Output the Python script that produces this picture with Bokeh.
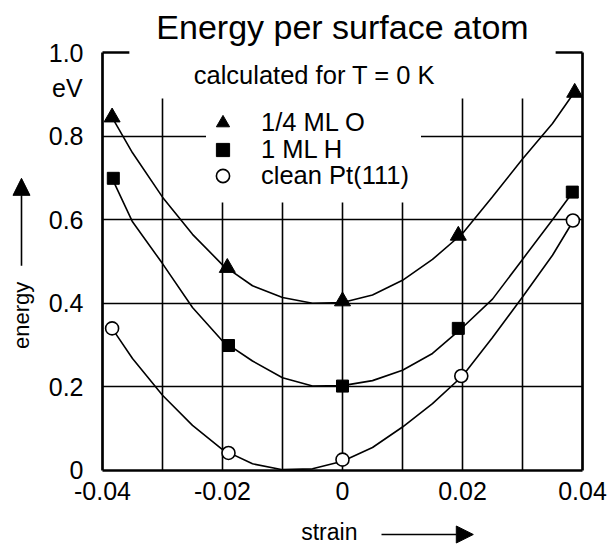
from math import pi
from bokeh.plotting import figure
from bokeh.models import (Range1d, FixedTicker, LinearAxis, Grid, Label, Arrow,
                          NormalHead, Legend, LegendItem)
from bokeh.embed import file_html
from bokeh.resources import INLINE

# ---- measured data points ----
strain_O = [-0.0384, -0.0192, 0.0, 0.0193, 0.0387]
energy_O = [0.845, 0.485, 0.405, 0.562, 0.904]
strain_H = [-0.0382, -0.0190, 0.0, 0.0193, 0.0383]
energy_H = [0.699, 0.299, 0.202, 0.340, 0.666]
strain_C = [-0.0384, -0.0190, 0.0, 0.0198, 0.0384]
energy_C = [0.340, 0.042, 0.026, 0.226, 0.598]

# ---- fitted curves ----
curve_x = [-0.0384, -0.035, -0.03, -0.025, -0.02, -0.015, -0.01, -0.005, 0.0,
           0.005, 0.01, 0.015, 0.02, 0.025, 0.03, 0.035, 0.0385]
curve_O = [0.845, 0.760, 0.654, 0.565, 0.492, 0.442, 0.414, 0.400, 0.402,
           0.420, 0.455, 0.505, 0.567, 0.655, 0.745, 0.830, 0.902]
curve_H = [0.699, 0.595, 0.495, 0.390, 0.310, 0.262, 0.222, 0.202, 0.203,
           0.215, 0.240, 0.280, 0.342, 0.410, 0.505, 0.600, 0.668]
curve_C = [0.340, 0.268, 0.180, 0.108, 0.050, 0.016, 0.002, 0.004, 0.022,
           0.055, 0.104, 0.160, 0.226, 0.318, 0.415, 0.515, 0.598]

series_labels = ["1/4 ML O", "1 ML H", "clean Pt(111)"]

x_ticks = [-0.04, -0.02, 0.0, 0.02, 0.04]
x_tick_labels = ["-0.04", "-0.02", "0", "0.02", "0.04"]
y_ticks = [0.0, 0.2, 0.4, 0.6, 0.8, 1.0]
y_tick_labels = ["0", "0.2", "0.4", "0.6", "0.8", "1.0"]
grid_x_outer = [-0.03, 0.02, 0.03]
grid_x_inner = [-0.02, -0.01, 0.0, 0.01]
grid_y = [0.2, 0.4, 0.6, 0.8]

X0, X1 = -0.04, 0.04
Y0, Y1 = 0.0, 1.0

FONT = "Liberation Sans"

# the frame spans the whole canvas; the data box is drawn by fixed-location axes
p = figure(width=607, height=545, output_backend="svg", toolbar_location=None,
           x_range=Range1d(-0.0570, 0.044167), y_range=Range1d(-0.179426, 1.124402),
           x_axis_type=None, y_axis_type=None,
           min_border=0, min_border_left=0, min_border_right=0,
           min_border_top=0, min_border_bottom=0)
p.outline_line_color = None
p.background_fill_color = "white"
p.border_fill_color = "white"


def style_axis(ax):
    ax.axis_line_color = "black"
    ax.axis_line_width = 2.7
    ax.major_tick_line_color = None
    ax.minor_tick_line_color = None
    ax.major_tick_out = 0
    ax.major_tick_in = 0
    ax.minor_tick_out = 0
    ax.minor_tick_in = 0
    ax.major_label_text_font = FONT
    ax.major_label_text_font_size = "25px"
    ax.major_label_text_color = "black"


left = LinearAxis(ticker=FixedTicker(ticks=y_ticks), fixed_location=X0, bounds=(Y0, Y1),
                  major_label_overrides=dict(zip(y_ticks, y_tick_labels)))
style_axis(left)
left.major_label_standoff = 19
p.add_layout(left, "left")

below = LinearAxis(ticker=FixedTicker(ticks=x_ticks), fixed_location=Y0, bounds=(X0, X1),
                   major_label_overrides=dict(zip(x_ticks, x_tick_labels)))
style_axis(below)
below.major_label_standoff = 12
p.add_layout(below, "below")

right = LinearAxis(ticker=FixedTicker(ticks=[]), fixed_location=X1, bounds=(Y0, Y1))
style_axis(right)
right.major_label_text_font_size = "0px"
p.add_layout(right, "right")

top = LinearAxis(ticker=FixedTicker(ticks=[]), fixed_location=Y1, bounds=(X0, X1))
style_axis(top)
top.major_label_text_font_size = "0px"
p.add_layout(top, "above")

# grids
p.add_layout(Grid(dimension=0, ticker=FixedTicker(ticks=grid_x_outer),
                  grid_line_color="black", grid_line_width=1.6, cross_bounds=(Y0, 0.89)))
p.add_layout(Grid(dimension=0, ticker=FixedTicker(ticks=grid_x_inner),
                  grid_line_color="black", grid_line_width=1.6, cross_bounds=(Y0, 0.64)))
p.add_layout(Grid(dimension=1, ticker=FixedTicker(ticks=grid_y),
                  grid_line_color="black", grid_line_width=1.6, cross_bounds=(X0, X1)))

# curves
for cy in (curve_O, curve_H, curve_C):
    p.line(curve_x, cy, line_color="black", line_width=1.6)

# markers
r_O = p.scatter(strain_O, energy_O, marker="triangle", size=16,
                fill_color="black", line_color="black")
r_H = p.scatter(strain_H, energy_H, marker="square", size=12,
                fill_color="black", line_color="black")
r_C = p.scatter(strain_C, energy_C, marker="circle", size=13,
                fill_color="white", line_color="black", line_width=1.6)

# one legend box per entry so that the row pitch can follow the original
legend_bottoms = [406, 379, 353]   # screen px from the bottom edge
for label, rend, yb in reversed(list(zip(series_labels, [r_O, r_H, r_C], legend_bottoms))):
    lg = Legend(items=[LegendItem(label=label, renderers=[rend])],
                location=(206, yb), orientation="vertical",
                glyph_width=33, glyph_height=33, label_standoff=22,
                label_width=160, spacing=0, padding=0, margin=0,
                label_text_font=FONT, label_text_font_size="25.5px",
                label_text_color="black",
                background_fill_color="white", background_fill_alpha=1.0,
                border_line_color=None)
    p.add_layout(lg)

# title covering the top border
p.add_layout(Label(x=0.0, y=1.0599, text="Energy per surface atom",
                   text_align="center", text_baseline="alphabetic",
                   text_font=FONT, text_font_size="34px", text_color="black",
                   background_fill_color="white", background_fill_alpha=1.0,
                   padding=27))

p.add_layout(Label(x=-0.0248, y=0.945, text="calculated for T = 0 K",
                   text_align="left", text_baseline="middle",
                   text_font=FONT, text_font_size="25.5px", text_color="black"))

p.add_layout(Label(x=-0.0433, y=0.916, text="eV", text_align="right",
                   text_baseline="middle", text_font=FONT,
                   text_font_size="25px", text_color="black"))

# axis titles with arrows
p.add_layout(Label(x=-0.0535, y=0.371, text="energy", angle=pi / 2,
                   text_align="center", text_baseline="middle",
                   text_font=FONT, text_font_size="22px", text_color="black"))
p.add_layout(Arrow(x_start=-0.0535, y_start=0.49, x_end=-0.0535, y_end=0.699,
                   line_color="black", line_width=1.6,
                   end=NormalHead(size=17, fill_color="black", line_color="black")))

p.add_layout(Label(x=-0.0022, y=-0.1483, text="strain",
                   text_align="center", text_baseline="middle",
                   text_font=FONT, text_font_size="23px", text_color="black"))
p.add_layout(Arrow(x_start=0.0065, y_start=-0.1531, x_end=0.0218, y_end=-0.1531,
                   line_color="black", line_width=1.6,
                   end=NormalHead(size=17, fill_color="black", line_color="black")))

open("out.html", "w").write(file_html(p, INLINE))
